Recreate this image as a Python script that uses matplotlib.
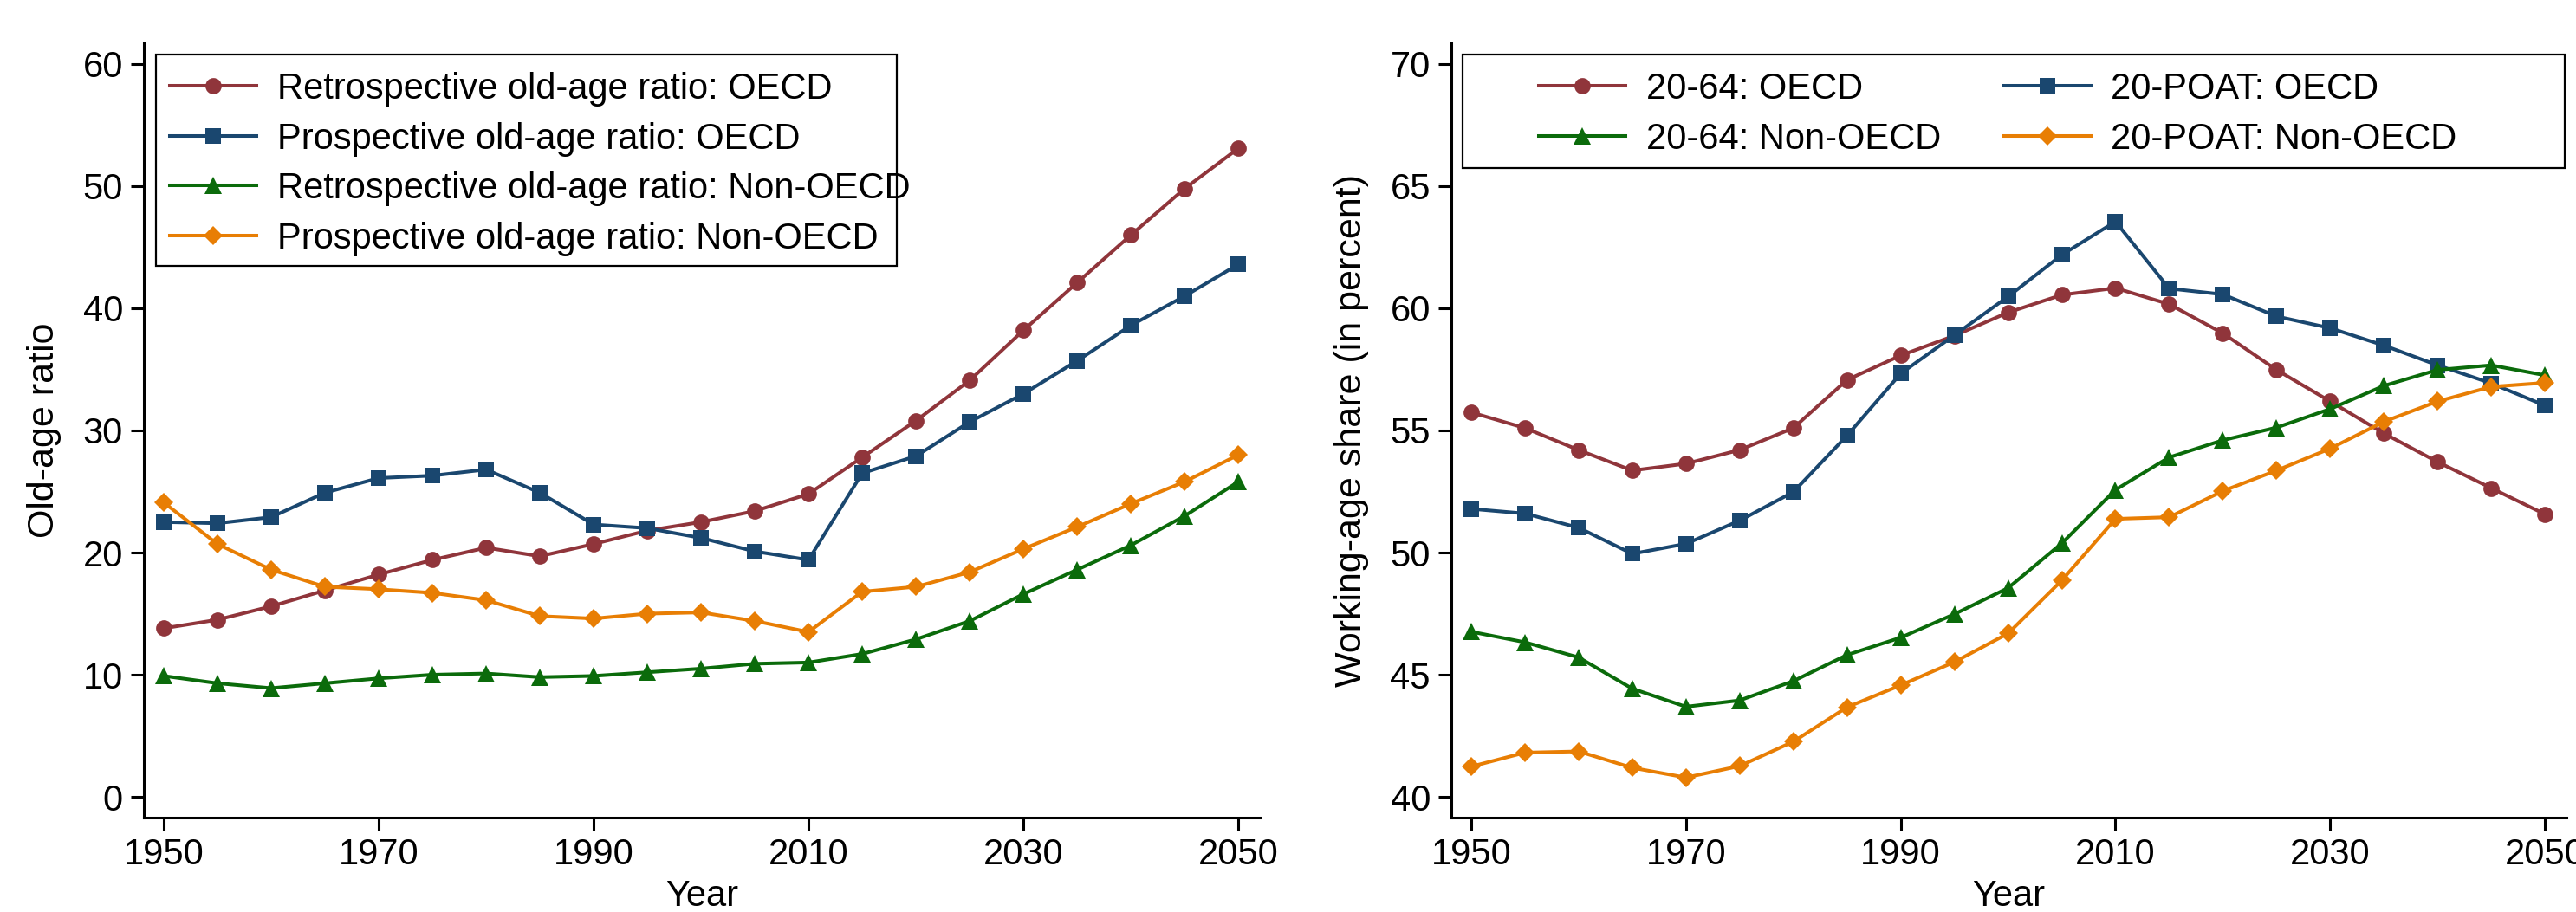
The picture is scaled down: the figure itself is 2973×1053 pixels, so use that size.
import matplotlib.pyplot as plt
from matplotlib.patches import Rectangle

plt.rcParams['font.family'] = ['Liberation Sans', 'DejaVu Sans']

years = list(range(1950, 2051, 5))

# left panel: old-age ratios
retro_oecd = [13.8, 14.5, 15.6, 16.9, 18.2, 19.4, 20.4, 19.7, 20.7, 21.8, 22.5,
              23.4, 24.8, 27.8, 30.8, 34.1, 38.2, 42.1, 46.0, 49.8, 53.1]
prosp_oecd = [22.5, 22.4, 22.9, 24.9, 26.1, 26.3, 26.8, 24.9, 22.3, 22.0, 21.2,
              20.1, 19.4, 26.5, 27.9, 30.7, 33.0, 35.7, 38.6, 41.0, 43.6]
retro_non = [9.9, 9.3, 8.9, 9.3, 9.7, 10.0, 10.1, 9.8, 9.9, 10.2, 10.5,
             10.9, 11.0, 11.7, 12.9, 14.4, 16.6, 18.6, 20.6, 23.0, 25.8]
prosp_non = [24.1, 20.7, 18.6, 17.2, 17.0, 16.7, 16.1, 14.8, 14.6, 15.0, 15.1,
             14.4, 13.5, 16.8, 17.2, 18.4, 20.3, 22.1, 24.0, 25.8, 28.0]

# right panel: working-age shares
wa_oecd = [55.74, 55.10, 54.20, 53.36, 53.64, 54.20, 55.10, 57.07, 58.07, 58.88, 59.83,
           60.55, 60.83, 60.17, 58.98, 57.48, 56.19, 54.88, 53.71, 52.64, 51.57]
poat_oecd = [51.79, 51.60, 51.02, 49.95, 50.36, 51.31, 52.48, 54.79, 57.33, 58.90, 60.48,
             62.19, 63.55, 60.81, 60.57, 59.67, 59.19, 58.48, 57.67, 56.93, 56.02]
wa_non = [46.76, 46.33, 45.71, 44.43, 43.69, 43.95, 44.74, 45.81, 46.52, 47.48, 48.55,
          50.38, 52.57, 53.90, 54.60, 55.12, 55.88, 56.83, 57.48, 57.67, 57.26]
poat_non = [41.24, 41.81, 41.86, 41.19, 40.79, 41.26, 42.26, 43.67, 44.57, 45.52, 46.69,
            48.86, 51.38, 51.45, 52.52, 53.36, 54.26, 55.36, 56.19, 56.79, 56.95]

left_labels = ['Retrospective old-age ratio: OECD', 'Prospective old-age ratio: OECD',
               'Retrospective old-age ratio: Non-OECD', 'Prospective old-age ratio: Non-OECD']
right_labels = ['20-64: OECD', '20-POAT: OECD', '20-64: Non-OECD', '20-POAT: Non-OECD']

colors = ['#90353B', '#1A476F', '#0B6B0B', '#E87E04']
markers = ['o', 's', '^', 'D']
msizes = [13.5, 13.5, 15, 11.5]
FS = 30

fig = plt.figure(figsize=(29.73, 10.53), dpi=100)
ax1 = fig.add_axes([166 / 2973, 109 / 1053, 1288 / 2973, 894 / 1053])
ax2 = fig.add_axes([1675 / 2973, 109 / 1053, 1287 / 2973, 894 / 1053])


def style(ax, yticks, ylim, ylabel):
    for s in ['top', 'right']:
        ax.spines[s].set_visible(False)
    for s in ['left', 'bottom']:
        ax.spines[s].set_linewidth(2.2)
    ax.set_xlim(1948.15, 2052)
    ax.set_ylim(*ylim)
    ax.set_xticks(range(1950, 2051, 20))
    ax.set_yticks(yticks)
    ax.tick_params(length=10.8, width=2.2, labelsize=FS)
    ax.tick_params(axis='x', pad=5.5)
    ax.tick_params(axis='y', pad=6.5)
    ax.set_xlabel('Year', fontsize=FS)
    ax.set_ylabel(ylabel, fontsize=31)
    ax.xaxis.set_label_coords(0.5, -0.079)
    ax.yaxis.set_label_coords(-0.0738, 0.5)


def draw(ax, series, labels):
    for vals, c, m, ms, lab in zip(series, colors, markers, msizes, labels):
        ax.plot(years, vals, color=c, marker=m, markersize=ms, lw=2.9,
                markeredgewidth=0, label=lab, clip_on=False)


draw(ax1, [retro_oecd, prosp_oecd, retro_non, prosp_non], left_labels)
style(ax1, range(0, 61, 10), (-1.7, 61.7), 'Old-age ratio')

draw(ax2, [wa_oecd, poat_oecd, wa_non, poat_non], right_labels)
style(ax2, range(40, 71, 5), (39.15, 70.85), 'Working-age share (in percent)')

# legends: content without frame, frame drawn as a separate box
ax1.legend(loc='upper left', bbox_to_anchor=(0.0233, 0.963), frameon=False,
           fontsize=FS, handlelength=2.4, handletextpad=0.57, labelspacing=0.42,
           borderpad=0, borderaxespad=0)
ax1.add_patch(Rectangle((0.0109, 0.7125), 0.6638, 0.273, transform=ax1.transAxes,
                        fill=True, facecolor='white', edgecolor='black', lw=1.6,
                        zorder=4.5, clip_on=False))

h, l = ax2.get_legend_handles_labels()
order = [0, 2, 1, 3]
ax2.legend([h[i] for i in order], [l[i] for i in order], ncol=2,
           loc='upper left', bbox_to_anchor=(0.0785, 0.963), frameon=False,
           fontsize=FS, handlelength=2.4, handletextpad=0.57, labelspacing=0.42,
           columnspacing=1.74, borderpad=0, borderaxespad=0)
ax2.add_patch(Rectangle((0.0101, 0.839), 0.9883, 0.1465, transform=ax2.transAxes,
                        fill=True, facecolor='white', edgecolor='black', lw=1.6,
                        zorder=4.5, clip_on=False))

fig.savefig('out.png', dpi=100)
